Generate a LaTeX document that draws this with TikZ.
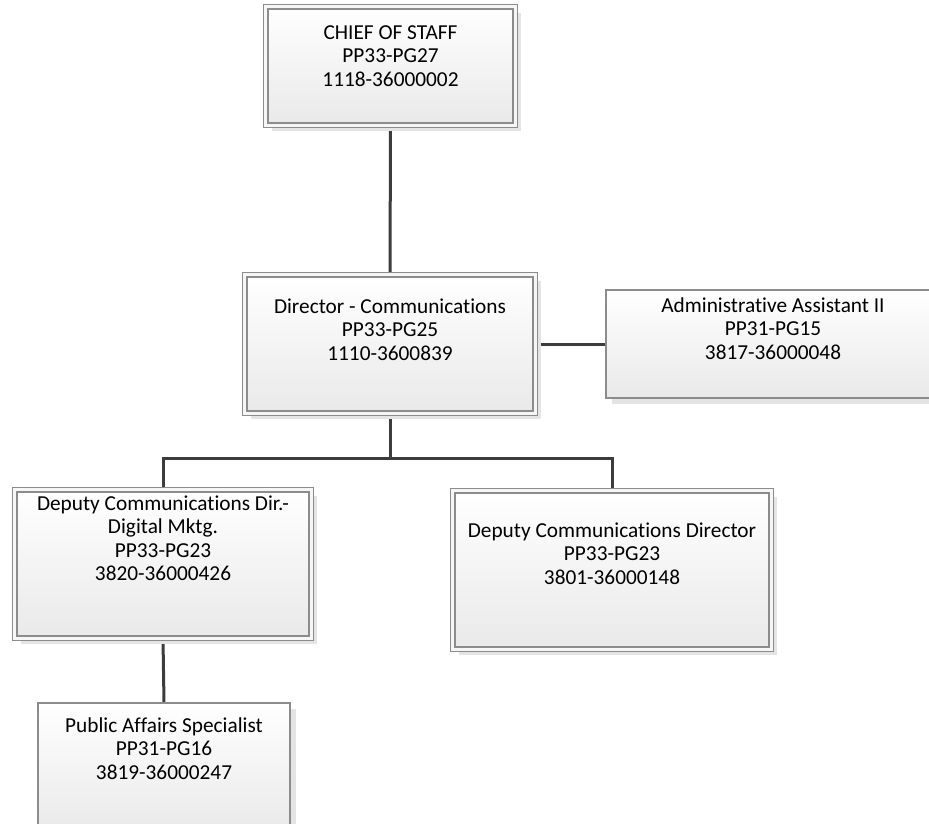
\documentclass[tikz,border=0pt]{standalone}
\usepackage{fontspec}
\setmainfont{Carlito}[Ligatures={NoCommon}]
\usetikzlibrary{shadows,backgrounds}

\definecolor{boxline}{HTML}{8C8C8C}
\definecolor{boxgap}{HTML}{F6F6F6}
\definecolor{boxbottom}{HTML}{E9E9E9}
\definecolor{shadowgray}{HTML}{E4E4E4}
\definecolor{connline}{HTML}{3C3C3C}
\definecolor{textcol}{HTML}{000000}

\tikzset{
  posbox/.style={rectangle, draw=boxline, line width=1.3pt, inner sep=0pt,
    top color=white, bottom color=boxbottom,
    drop shadow={shadow xshift=6pt, shadow yshift=-6pt, fill=shadowgray, opacity=1}},
  headbox/.style={posbox, double=boxgap, double distance=3pt},
  postext/.style={font=\fontsize{21.3}{23.5}\selectfont, align=center,
    inner sep=0pt, anchor=north, text=textcol},
  conn/.style={draw=connline, line width=3pt}
}

\begin{document}
\begin{tikzpicture}[x=1pt, y=-1pt]
  \useasboundingbox (0,0) rectangle (929,823);

  % position boxes
  \node[headbox, minimum width=249.4pt, minimum height=118.4pt] (chief) at (390.5,66) {};
  \node[headbox, minimum width=290.4pt, minimum height=138.4pt] (director) at (390,344) {};
  \node[posbox, minimum width=334pt, minimum height=108pt] (admin) at (773,344) {};
  \node[headbox, minimum width=296.4pt, minimum height=148.4pt] (ldep) at (163,564) {};
  \node[headbox, minimum width=318.4pt, minimum height=158.4pt] (rdep) at (612,570) {};
  \node[posbox, minimum width=252pt, minimum height=130pt] (public) at (164,768) {};

  % titles
  \node[postext] (chief-t) at (390.5,22.5) {\strut CHIEF OF STAFF\\PP33-PG27\\1118-36000002};
  \node[postext] (director-t) at (390,296.5) {\strut Director - Communications\\PP33-PG25\\1110-3600839};
  \node[postext] (admin-t) at (773,295.5) {\strut Administrative Assistant II\\PP31-PG15\\3817-36000048};
  \node[postext] (ldep-t) at (163,493.5) {\strut Deputy Communications Dir.-\\Digital Mktg.\\PP33-PG23\\3820-36000426};
  \node[postext] (rdep-t) at (612,520.5) {\strut Deputy Communications Director\\PP33-PG23\\3801-36000148};
  \node[postext] (public-t) at (164,715.5) {\strut Public Affairs Specialist\\PP31-PG16\\3819-36000247};

  % reporting lines
  \coordinate (bus) at (0,458);
  \begin{pgfonlayer}{background}
    \draw[conn] (chief.south) -- (director.north);
    \draw[conn] (director.east) -- (admin.west);
    \draw[conn] (director.south) -- (director.south |- bus);
    \draw[conn] (ldep.north) |- (rdep.north |- bus) -- (rdep.north);
    \draw[conn] (ldep.south) -- (public.north);
  \end{pgfonlayer}
\end{tikzpicture}
\end{document}
